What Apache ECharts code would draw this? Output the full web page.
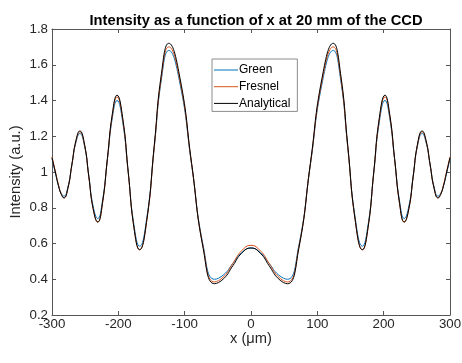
<!DOCTYPE html>
<html>
<head>
<meta charset="utf-8">
<script src="https://cdn.jsdelivr.net/npm/echarts@6/dist/echarts.min.js"></script>
<style>
html,body{margin:0;padding:0;background:#fff;}
#chart{width:462px;height:363px;}
</style>
</head>
<body>
<div id="chart"></div>
<script>
// x positions (µm)
var xs = [-300, -295, -290, -286, -282, -276, -270, -264, -258, -251, -244.5, -238, -231, -224, -216.5, -209, -202, -193.5, -185, -176.5, -168, -157, -146, -135, -124, -107, -89.5, -72, -55, -41, -27.5, -14, 0,
          14, 27.5, 41, 55, 72, 89.5, 107, 124, 135, 146, 157, 168, 176.5, 185, 193.5, 202, 209, 216.5, 224, 231, 238, 244.5, 251, 258, 264, 270, 276, 282, 286, 290, 295, 300];

var greenVals = [1.075, 0.995, 0.92, 0.88, 0.865, 0.916, 1.040, 1.164, 1.215, 1.146, 0.978, 0.809, 0.74, 0.836, 1.070, 1.304, 1.40, 1.281, 0.993, 0.704, 0.585, 0.745, 1.133, 1.520, 1.68, 1.493, 1.040, 0.587, 0.40, 0.426, 0.488, 0.549, 0.575,
                 0.549, 0.488, 0.426, 0.40, 0.587, 1.040, 1.493, 1.68, 1.520, 1.133, 0.745, 0.585, 0.704, 0.993, 1.281, 1.40, 1.304, 1.070, 0.836, 0.74, 0.809, 0.978, 1.146, 1.215, 1.164, 1.040, 0.916, 0.865, 0.88, 0.92, 0.995, 1.075];

var fresnelVals = [1.085, 1.005, 0.925, 0.877, 0.855, 0.909, 1.040, 1.171, 1.225, 1.151, 0.973, 0.794, 0.72, 0.822, 1.070, 1.318, 1.42, 1.295, 0.993, 0.690, 0.565, 0.731, 1.133, 1.534, 1.70, 1.508, 1.043, 0.577, 0.385, 0.415, 0.488, 0.560, 0.59,
                   0.560, 0.488, 0.415, 0.385, 0.577, 1.043, 1.508, 1.70, 1.534, 1.133, 0.731, 0.565, 0.690, 0.993, 1.295, 1.42, 1.318, 1.070, 0.822, 0.72, 0.794, 0.973, 1.151, 1.225, 1.171, 1.040, 0.909, 0.855, 0.877, 0.925, 1.005, 1.085];

var analyticalVals = [1.08, 1.0, 0.92, 0.875, 0.855, 0.91, 1.043, 1.175, 1.23, 1.156, 0.975, 0.795, 0.72, 0.824, 1.075, 1.326, 1.43, 1.304, 0.998, 0.691, 0.565, 0.734, 1.143, 1.551, 1.72, 1.524, 1.048, 0.571, 0.375, 0.404, 0.475, 0.546, 0.575,
                      0.546, 0.475, 0.404, 0.375, 0.571, 1.048, 1.524, 1.72, 1.551, 1.143, 0.734, 0.565, 0.691, 0.998, 1.304, 1.43, 1.326, 1.075, 0.824, 0.72, 0.795, 0.975, 1.156, 1.23, 1.175, 1.043, 0.91, 0.855, 0.875, 0.92, 1.0, 1.08];

var seriesNames = ['Green', 'Fresnel', 'Analytical'];
var seriesColors = ['#0072BD', '#D95319', '#000000'];
var titleText = 'Intensity as a function of x at 20 mm of the CCD';
var xName = 'x (μm)';
var yName = 'Intensity (a.u.)';

function pairs(vals) {
  return xs.map(function (x, i) { return [x, vals[i]]; });
}

var FONT = '"Liberation Sans", Arial, Helvetica, sans-serif';
var AX = '#262626';
var AXL = '#555555';

var chart = echarts.init(document.getElementById('chart'), null, {renderer: 'canvas'});
var allVals = [greenVals, fresnelVals, analyticalVals];

var option = {
  animation: false,
  backgroundColor: '#ffffff',
  title: {
    text: titleText,
    left: 251, top: 8, textAlign: 'center',
    textStyle: {fontFamily: FONT, fontSize: 14.7, fontWeight: 'bold', color: '#000'}
  },
  legend: {
    data: seriesNames,
    orient: 'vertical',
    left: 212, top: 59,
    padding: [4, 7, 1, 2],
    itemGap: 2.7,
    icon: 'rect',
    itemWidth: 24, itemHeight: 1,
    borderColor: '#8c8c8c', borderWidth: 1,
    backgroundColor: '#ffffff',
    textStyle: {fontFamily: FONT, fontSize: 12, color: '#000', lineHeight: 14, padding: [0, 0, 0, -4]}
  },
  grid: {left: 52, right: 12, top: 29, bottom: 48, containLabel: false, outerBoundsMode: 'none'},
  xAxis: [{
    type: 'value', min: -300, max: 300, interval: 100,
    name: xName, nameLocation: 'middle', nameGap: 16, nameMoveOverlap: false,
    nameTextStyle: {fontFamily: FONT, fontSize: 14.7, color: AX},
    axisLine: {show: true, onZero: false, lineStyle: {color: AXL, width: 1}},
    axisTick: {show: true, inside: true, length: 4, lineStyle: {color: AXL}},
    axisLabel: {fontFamily: FONT, fontSize: 13.3, color: AX, margin: 3},
    splitLine: {show: false}
  }, {
    type: 'value', min: -300, max: 300, interval: 100, position: 'top',
    axisLine: {show: true, onZero: false, lineStyle: {color: AXL, width: 1}},
    axisTick: {show: true, inside: true, length: 4, lineStyle: {color: AXL}},
    axisLabel: {show: false}, splitLine: {show: false}
  }],
  yAxis: [{
    type: 'value', min: 0.2, max: 1.8, interval: 0.2,
    name: yName, nameLocation: 'middle', nameGap: 29, nameRotate: 90, nameMoveOverlap: false,
    nameTextStyle: {fontFamily: FONT, fontSize: 14.7, color: AX},
    axisLine: {show: true, onZero: false, lineStyle: {color: AXL, width: 1}},
    axisTick: {show: true, inside: true, length: 4, lineStyle: {color: AXL}},
    axisLabel: {fontFamily: FONT, fontSize: 13.3, color: AX, margin: 4,
      formatter: function (v) { return String(Math.round(v * 10) / 10); }},
    splitLine: {show: false}
  }, {
    type: 'value', min: 0.2, max: 1.8, interval: 0.2, position: 'right',
    axisLine: {show: true, onZero: false, lineStyle: {color: AXL, width: 1}},
    axisTick: {show: true, inside: true, length: 4, lineStyle: {color: AXL}},
    axisLabel: {show: false}, splitLine: {show: false}
  }],
  series: seriesNames.map(function (n, i) {
    return {
      name: n, type: 'line', xAxisIndex: 0, yAxisIndex: 0,
      data: pairs(allVals[i]),
      smooth: 0.5, symbol: 'none', showSymbol: false,
      lineStyle: {color: seriesColors[i], width: 1},
      itemStyle: {color: seriesColors[i]},
      z: 2 + i
    };
  })
};
chart.setOption(option);
</script>
</body>
</html>
